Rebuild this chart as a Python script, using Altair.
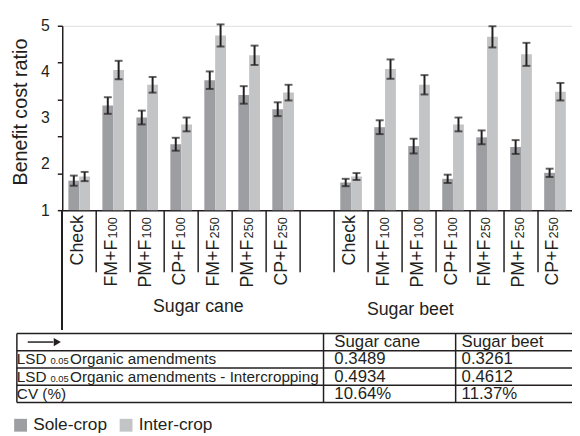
import altair as alt
import pandas as pd

# ---------------- data ----------------
crops = ["Sole-crop", "Inter-crop"]
crop_colors = ["#9d9ea2", "#c3c4c6"]
groups = ["Sugar cane", "Sugar beet"]
treat_main = ["Check", "FM+F", "PM+F", "CP+F", "FM+F", "PM+F", "CP+F"]
treat_sub = ["", "100", "100", "100", "250", "250", "250"]

cane_sole = [1.64, 3.27, 3.01, 2.43, 3.82, 3.50, 3.19]
cane_inter = [1.73, 4.04, 3.72, 2.86, 4.79, 4.36, 3.55]
beet_sole = [1.60, 2.80, 2.39, 1.68, 2.58, 2.37, 1.81]
beet_inter = [1.73, 4.06, 3.72, 2.86, 4.76, 4.38, 3.57]

cane_sole_err = [0.11, 0.18, 0.15, 0.14, 0.19, 0.19, 0.15]
cane_inter_err = [0.10, 0.20, 0.17, 0.15, 0.24, 0.21, 0.17]
beet_sole_err = [0.08, 0.15, 0.16, 0.09, 0.15, 0.15, 0.09]
beet_inter_err = [0.075, 0.21, 0.21, 0.15, 0.23, 0.25, 0.19]

y_tick_vals = [1, 1.8, 2.6, 3.4, 4.2, 5]
y_label_vals = [1, 2, 3, 4, 5]

table_col1_prefix = ["", "LSD", "LSD", "CV (%)"]
table_col1_sub = ["", "0.05", "0.05", ""]
table_col1_rest = ["", "Organic amendments", "Organic amendments - Intercropping", ""]
table_cane = ["Sugar cane", "0.3489", "0.4934", "10.64%"]
table_beet = ["Sugar beet", "0.3261", "0.4612", "11.37%"]

# ---------------- build tables ----------------
values = {
    ("Sugar cane", "Sole-crop"): (cane_sole, cane_sole_err),
    ("Sugar cane", "Inter-crop"): (cane_inter, cane_inter_err),
    ("Sugar beet", "Sole-crop"): (beet_sole, beet_sole_err),
    ("Sugar beet", "Inter-crop"): (beet_inter, beet_inter_err),
}
slots = [f"{groups[0]}|{i}" for i in range(7)] + ["gap"] + [f"{groups[1]}|{i}" for i in range(7)]

rows = []
for g in groups:
    for c in crops:
        v, e = values[(g, c)]
        for i in range(7):
            rows.append({"slot": f"{g}|{i}", "crop": c, "value": v[i], "err": e[i]})
bars_df = pd.DataFrame(rows)

lab_rows = []
for g in groups:
    for i in range(7):
        lab_rows.append({"slot": f"{g}|{i}", "main": treat_main[i], "sub": treat_sub[i]})
lab_df = pd.DataFrame(lab_rows)

sep_df = pd.DataFrame({"slot": slots[1:]})

tab_df = pd.DataFrame({
    "row": list(range(4)),
    "p": table_col1_prefix,
    "s": table_col1_sub,
    "r": table_col1_rest,
    "cane": table_cane,
    "beet": table_beet,
})
bound_df = pd.DataFrame({"b": list(range(5))})
vline_df = pd.DataFrame({"top": [0], "bottom": [4]})

# ---------------- layout constants ----------------
W, H = 517, 187
INK = "#231f20"
FONT = "Liberation Sans"

xs = alt.Scale(domain=slots, paddingInner=0, paddingOuter=0)
xaxis = alt.Axis(labels=False, ticks=False, title=None, domainColor=INK, domainWidth=1.5, grid=False)
ys = alt.Scale(domain=[1, 5], zero=False, nice=False)
all_vals = sorted(set(y_tick_vals) | set(y_label_vals))
tick_test = "indexof([" + ",".join(str(v) for v in y_tick_vals) + "], datum.value) >= 0"
yaxis = alt.Axis(
    values=all_vals,
    labelExpr="datum.value % 1 == 0 ? format(datum.value, 'd') : ''",
    tickOpacity={"condition": {"test": tick_test, "value": 1}, "value": 0},
    tickSize=5, tickWidth=1.5, tickColor=INK,
    domainColor=INK, domainWidth=1.5,
    labelFontSize=16, labelColor=INK, labelPadding=8, labelOverlap=False, labelFlush=False,
    grid=False,
    title="Benefit cost ratio", titleFontSize=20, titleFontWeight="normal", titleColor=INK,
    titleX=-36, titleY=87, titleAngle=270, titleAlign="center", titleBaseline="alphabetic",
)
xoff = alt.XOffset("crop:N", scale=alt.Scale(domain=crops, paddingInner=0, paddingOuter=0.57))
X = alt.X("slot:N", scale=xs, axis=xaxis, title=None)

bars = alt.Chart(bars_df).mark_bar().encode(
    x=X, xOffset=xoff,
    y=alt.Y("value:Q", scale=ys, axis=yaxis, title="Benefit cost ratio"),
    y2=alt.datum(1),
    color=alt.Color("crop:N", scale=alt.Scale(domain=crops, range=crop_colors),
                    legend=alt.Legend(orient="none", legendX=-51, legendY=396, direction="horizontal",
                                      title=None, symbolType="square", symbolSize=169,
                                      symbolStrokeWidth=0, labelFontSize=17.5, labelColor=INK,
                                      labelOffset=4, columnPadding=10)),
)
err_base = alt.Chart(bars_df).transform_calculate(
    lo="datum.value - datum.err", hi="datum.value + datum.err")
err_rule = err_base.mark_rule(color=INK, strokeWidth=2).encode(
    x=X, xOffset=xoff,
    y=alt.Y("lo:Q", scale=ys, axis=yaxis, title="Benefit cost ratio"), y2="hi:Q")
cap_lo = err_base.mark_tick(color=INK, thickness=2, size=8).encode(
    x=X, xOffset=xoff, y=alt.Y("lo:Q", scale=ys, axis=yaxis, title="Benefit cost ratio"))
cap_hi = err_base.mark_tick(color=INK, thickness=2, size=8).encode(
    x=X, xOffset=xoff, y=alt.Y("hi:Q", scale=ys, axis=yaxis, title="Benefit cost ratio"))

Xb = alt.X("slot:N", scale=xs, axis=xaxis, title=None, bandPosition=0)
seps = alt.Chart(sep_df).mark_rule(color=INK, strokeWidth=1.5).encode(
    x=Xb, y=alt.value(H), y2=alt.value(H + 63))
yext = alt.Chart(sep_df).mark_rule(color=INK, strokeWidth=1.5).encode(
    x=alt.value(0), y=alt.value(H), y2=alt.value(H + 121))

lab_plain = alt.Chart(lab_df).transform_filter("datum.sub == ''").mark_text(
    angle=270, align="right", baseline="alphabetic", dy=3.5, fontSize=18, color=INK).encode(
    x=X, y=alt.value(H + 5), text="main:N")
lab_main = alt.Chart(lab_df).transform_filter("datum.sub != ''").mark_text(
    angle=270, align="right", baseline="alphabetic", dy=3.5, dx=-25, fontSize=18, color=INK).encode(
    x=X, y=alt.value(H + 5), text="main:N")
lab_sub = alt.Chart(lab_df).transform_filter("datum.sub != ''").mark_text(
    angle=270, align="right", baseline="alphabetic", dy=3.5, fontSize=13, color=INK).encode(
    x=X, y=alt.value(H + 7), text="sub:N")

gt_df = pd.DataFrame({"g": groups})
gt_cane = alt.Chart(gt_df).transform_filter(f"datum.g == '{groups[0]}'").mark_text(
    fontSize=18, color=INK, align="center", baseline="alphabetic").encode(
    x=alt.value(138), y=alt.value(290), text="g:N")
gt_beet = alt.Chart(gt_df).transform_filter(f"datum.g == '{groups[1]}'").mark_text(
    fontSize=18, color=INK, align="center", baseline="alphabetic").encode(
    x=alt.value(353), y=alt.value(293), text="g:N")

main = alt.layer(bars, err_rule, cap_lo, cap_hi, seps, yext, lab_plain, lab_main, lab_sub, gt_cane, gt_beet)

# ---------------- table ----------------
ts = alt.Scale(domain=[0, 4], range=[H + 125, H + 195], zero=False, nice=False)
hlines = alt.Chart(bound_df).mark_rule(color=INK, strokeWidth=1.5).encode(
    y=alt.Y("b:Q", scale=ts, axis=None), x=alt.value(-46), x2=alt.value(W + 30))
vl = []
for xv in [-46, 265, 399]:
    vl.append(alt.Chart(vline_df).mark_rule(color=INK, strokeWidth=1.5).encode(
        x=alt.value(xv), y=alt.Y("top:Q", scale=ts, axis=None), y2="bottom:Q"))
tbase = alt.Chart(tab_df).transform_calculate(rb="datum.row + 1")
Ty = alt.Y("rb:Q", scale=ts, axis=None)
t_pre = tbase.mark_text(align="left", baseline="alphabetic", dy=-3.5, fontSize=15.5, color=INK).encode(
    x=alt.value(-46), y=Ty, text="p:N")
t_sub = tbase.mark_text(align="left", baseline="alphabetic", dy=-3.5, fontSize=9.5, color=INK).encode(
    x=alt.value(-12), y=Ty, text="s:N")
t_rest = tbase.mark_text(align="left", baseline="alphabetic", dy=-3.5, fontSize=15.5, color=INK).encode(
    x=alt.value(8), y=Ty, text="r:N")
t_cane = tbase.mark_text(align="left", baseline="alphabetic", dy=-3.5, fontSize=17, color=INK).encode(
    x=alt.value(276), y=Ty, text="cane:N")
t_beet = tbase.mark_text(align="left", baseline="alphabetic", dy=-3.5, fontSize=17, color=INK).encode(
    x=alt.value(405), y=Ty, text="beet:N")
arrow_df = pd.DataFrame({"m": [0.5]})
arrow_shaft = alt.Chart(arrow_df).mark_rule(color=INK, strokeWidth=1.5).encode(
    x=alt.value(-35), x2=alt.value(-9), y=alt.Y("m:Q", scale=ts, axis=None))
arrow_head = alt.Chart(arrow_df).mark_point(shape="triangle-right", filled=True, size=70,
                                           color=INK, opacity=1).encode(
    x=alt.value(-5), y=alt.Y("m:Q", scale=ts, axis=None))

table = alt.layer(hlines, *vl, t_pre, t_sub, t_rest, t_cane, t_beet, arrow_shaft, arrow_head)

chart = alt.layer(main, table).resolve_scale(y="independent").properties(
    width=W, height=H,
    autosize=alt.AutoSizeParams(type="none"),
    padding={"left": 55, "top": 15, "right": 0, "bottom": 226},
).configure_view(stroke=None).configure(font=FONT)

chart.save("out.html", embed_options={"renderer": "svg", "actions": False})
